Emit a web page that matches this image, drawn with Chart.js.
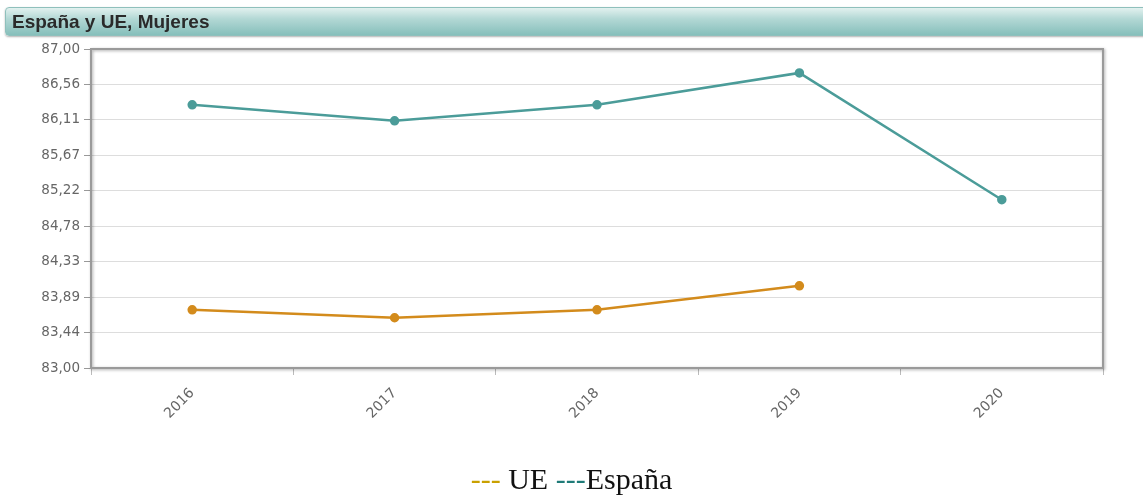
<!DOCTYPE html>
<html>
<head>
<meta charset="utf-8">
<script src="https://cdn.jsdelivr.net/npm/chart.js@4"></script>
<style>
  html,body{margin:0;padding:0;background:#fff;width:1143px;height:500px;overflow:hidden;}
  #wrap{position:relative;width:1143px;height:500px;}
  #c{position:absolute;left:0;top:0;}
  #title{position:absolute;left:5px;top:7px;width:1150px;height:29px;border-radius:4px 0 0 4px;
    background:linear-gradient(to bottom,#e2f1ef 0%,#b3d8d5 40%,#86bfbb 100%);
    border:1px solid #8fc0bc;box-shadow:0 1px 2px rgba(0,0,0,0.3);box-sizing:border-box;
    font-family:"Liberation Sans",Arial,sans-serif;font-weight:bold;font-size:19px;color:#2a2a2a;
    line-height:27px;padding-left:6px;}
  #legend{position:absolute;left:0;width:1143px;top:462px;text-align:center;
    font-family:"Liberation Serif","Times New Roman",serif;font-size:30px;color:#111;}
</style>
</head>
<body>
<div id="wrap">
  <canvas id="c" width="1143" height="500"></canvas>
  <div id="title">España y UE, Mujeres</div>
  <div id="legend"><span style="color:#c9a000">---</span> UE <span style="color:#1f7b78">---</span>España</div>
</div>
<script>
const categories = ["2016", "2017", "2018", "2019", "2020"];
const espana = [86.30, 86.10, 86.30, 86.70, 85.11];
const ue = [83.73, 83.63, 83.73, 84.03, null];
const yTickLabels = ["83,00","83,44","83,89","84,33","84,78","85,22","85,67","86,11","86,56","87,00"];
const yMin = 83, yMax = 87;

const framePlugin = {
  id: 'frame',
  afterDraw(chart) {
    const {ctx, chartArea: a} = chart;
    ctx.save();
    ctx.shadowColor = 'rgba(0,0,0,0.35)';
    ctx.shadowBlur = 3;
    ctx.shadowOffsetX = 1;
    ctx.shadowOffsetY = 1;
    ctx.strokeStyle = '#9a9a9a';
    ctx.lineWidth = 2;
    ctx.strokeRect(a.left, a.top, a.right - a.left, a.bottom - a.top);
    ctx.restore();
  }
};

new Chart(document.getElementById('c'), {
  type: 'line',
  data: {
    labels: categories,
    datasets: [
      {label: 'España', data: espana, borderColor: '#4b9c99', backgroundColor: '#4b9c99',
       borderWidth: 2.5, pointRadius: 3.5, pointBackgroundColor: '#4b9c99', tension: 0},
      {label: 'UE', data: ue, borderColor: '#d38b1c', backgroundColor: '#d38b1c',
       borderWidth: 2.5, pointRadius: 3.5, pointBackgroundColor: '#d38b1c', tension: 0}
    ]
  },
  options: {
    responsive: false,
    animation: false,
    layout: {padding: {top: 49, right: 40, left: 0, bottom: 0}},
    plugins: {legend: {display: false}, tooltip: {enabled: false}},
    scales: {
      x: {
        offset: true,
        grid: {offset: true, drawOnChartArea: false, drawTicks: true, tickLength: 7, color: '#bbbbbb'},
        border: {display: false},
        ticks: {minRotation: 45, maxRotation: 45, color: '#666', padding: 10,
                font: {family: 'DejaVu Sans', size: 14}},
        afterFit(scale) { scale.height = 132; }
      },
      y: {
        min: yMin, max: yMax,
        afterBuildTicks(scale) {
          scale.ticks = yTickLabels.map((l, i) => ({value: yMin + i * (yMax - yMin) / (yTickLabels.length - 1)}));
        },
        grid: {color: '#dddddd', lineWidth: 1, tickLength: 7, tickColor: '#999999'},
        border: {display: false},
        ticks: {color: '#666', padding: 4, font: {family: 'DejaVu Sans', size: 13.5},
                callback: (v, i) => yTickLabels[i]},
        afterFit(scale) { scale.width = 91; }
      }
    }
  },
  plugins: [framePlugin]
});
</script>
</body>
</html>
